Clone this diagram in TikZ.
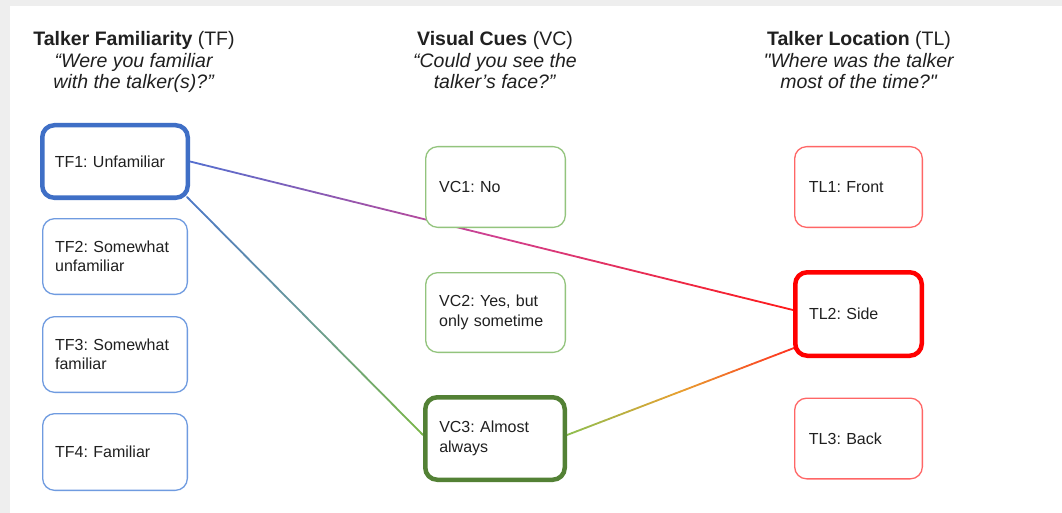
\documentclass[tikz,border=0pt]{standalone}
\usepackage{fontspec}
\setmainfont{Liberation Sans}
% family without the TeX input mapping, so that " stays a straight quote
\newfontfamily\lib{Liberation Sans}
\frenchspacing
\usetikzlibrary{calc}

\definecolor{txt}{HTML}{202020}
\definecolor{tfthin}{HTML}{6F9BE0}
\definecolor{tfthick}{HTML}{3F6FC6}
\definecolor{vcthin}{HTML}{93C47D}
\definecolor{vcthick}{HTML}{538135}
\definecolor{tlthin}{HTML}{FF6666}
\definecolor{tlthick}{HTML}{FF0000}
\definecolor{pageedge}{HTML}{EEEEEE}

% colour stops of the connectors
\definecolor{ablue}{HTML}{5470D0}
\definecolor{amag}{HTML}{D04090}
\definecolor{ared}{HTML}{FF1A1A}
\definecolor{bblue}{HTML}{4C78C8}
\definecolor{bteal}{HTML}{6A9A98}
\definecolor{bgreen}{HTML}{7AB648}
\definecolor{cgreen}{HTML}{8CBF50}
\definecolor{corange}{HTML}{E8A030}
\definecolor{cred}{HTML}{FF3020}

\pgfdeclarelayer{bottom}
\pgfdeclarelayer{edges}
\pgfsetlayers{bottom,edges,main}

% straight connector shaded through three colours: from, to, c1, c2, c3
\newcommand{\gradline}[5]{%
  \foreach \i in {0,...,47}{%
    \pgfmathsetmacro{\ta}{\i/48}%
    \pgfmathsetmacro{\tb}{(\i+1)/48}%
    \pgfmathsetmacro{\tm}{(\i+0.5)/48}%
    \ifdim\tm pt<0.5pt
      \pgfmathsetmacro{\pc}{100*(1-2*\tm)}%
      \colorlet{segcol}{#3!\pc!#4}%
    \else
      \pgfmathsetmacro{\pc}{100*(2-2*\tm)}%
      \colorlet{segcol}{#4!\pc!#5}%
    \fi
    \draw[conn, segcol] ($(#1)!\ta!(#2)$) -- ($(#1)!\tb!(#2)$);
  }%
}

\begin{document}
\begin{tikzpicture}[x=1pt, y=-1pt,
  title/.style={align=center, text=txt, inner sep=0pt,
    font=\lib\fontsize{19.5}{21.5}\selectfont, anchor=base},
  cell/.style={rectangle, rounded corners=12pt, fill=white, align=left,
    text=txt, font=\lib\fontsize{16}{19.5}\selectfont, inner ysep=0pt},
  tfbox/.style={cell, draw=tfthin, line width=1.3pt, inner xsep=12.5pt,
    minimum width=144.7pt, text width=119.7pt},
  tfsel/.style={cell, draw=tfthick, line width=4.5pt, inner xsep=12.5pt,
    minimum width=145.5pt, text width=120.5pt},
  vcbox/.style={cell, draw=vcthin, line width=1.3pt, inner xsep=13.5pt,
    minimum width=139.7pt, text width=112.7pt},
  vcsel/.style={cell, draw=vcthick, line width=4.5pt, inner xsep=14pt,
    minimum width=139.5pt, text width=111.5pt},
  tlbox/.style={cell, draw=tlthin, line width=1.3pt, inner xsep=14.3pt,
    minimum width=127.7pt, text width=99.1pt},
  tlsel/.style={cell, draw=tlthick, line width=4.5pt, inner xsep=13.75pt,
    minimum width=126.5pt, text width=99pt},
  conn/.style={line width=1.8pt, line cap=round}
]
\useasboundingbox (0,0) rectangle (1062,513);

\begin{pgfonlayer}{bottom}
  \fill[pageedge] (0,0) rectangle (1062,513);
  \fill[white] (10,6) rectangle (1062,513);
\end{pgfonlayer}

% column headings (anchored on the baseline of their last line)
\node[title] (hTF) at (134,89)
  {\textbf{Talker Familiarity} (TF)\\\textit{“Were you familiar}\\\textit{with the talker(s)?”}};
\node[title] (hVC) at (495,89)
  {\textbf{Visual Cues} (VC)\\\textit{“Could you see the}\\\textit{talker’s face?”}};
\node[title] (hTL) at (859,89)
  {\textbf{Talker Location} (TL)\\\textit{"Where was the talker}\\\textit{most of the time?"}};

% talker familiarity
\node[tfsel, minimum height=72.5pt] (TF1) at (115,161.5) {TF1: Unfamiliar};
\node[tfbox, minimum height=75.7pt] (TF2) at (115,256.5) {TF2: Somewhat\\unfamiliar};
\node[tfbox, minimum height=75.7pt] (TF3) at (115,354.5) {TF3: Somewhat\\familiar};
\node[tfbox, minimum height=76.7pt] (TF4) at (115,452) {TF4: Familiar};

% visual cues
\node[vcbox, minimum height=80.7pt] (VC1) at (495.5,187) {VC1: No};
\node[vcbox, minimum height=79.7pt] (VC2) at (495.5,312.5) {VC2: Yes, but\\only sometime};
\node[vcsel, minimum height=82.5pt] (VC3) at (495,438.5) {VC3: Almost\\always};

% talker location
\node[tlbox, minimum height=80.7pt] (TL1) at (858.5,187) {TL1: Front};
\node[tlsel, minimum height=83.5pt] (TL2) at (858.5,314) {TL2: Side};
\node[tlbox, minimum height=80.7pt] (TL3) at (858.5,438.5) {TL3: Back};

% connector end points on the borders
\coordinate (aS) at (TF1.east);
\coordinate (aE) at ($(TL2.west)+(0,-4)$);
\coordinate (bS) at ($(TF1.south east)+(-3,-3)$);
\coordinate (bE) at ($(VC3.west)+(0,-3.5)$);
\coordinate (cS) at ($(VC3.east)+(0,-3.5)$);
\coordinate (cE) at ($(TL2.south west)+(1,-10)$);

\begin{pgfonlayer}{edges}
  \gradline{aS}{aE}{ablue}{amag}{ared}
  \gradline{bS}{bE}{bblue}{bteal}{bgreen}
  \gradline{cS}{cE}{cgreen}{corange}{cred}
\end{pgfonlayer}
\end{tikzpicture}
\end{document}
